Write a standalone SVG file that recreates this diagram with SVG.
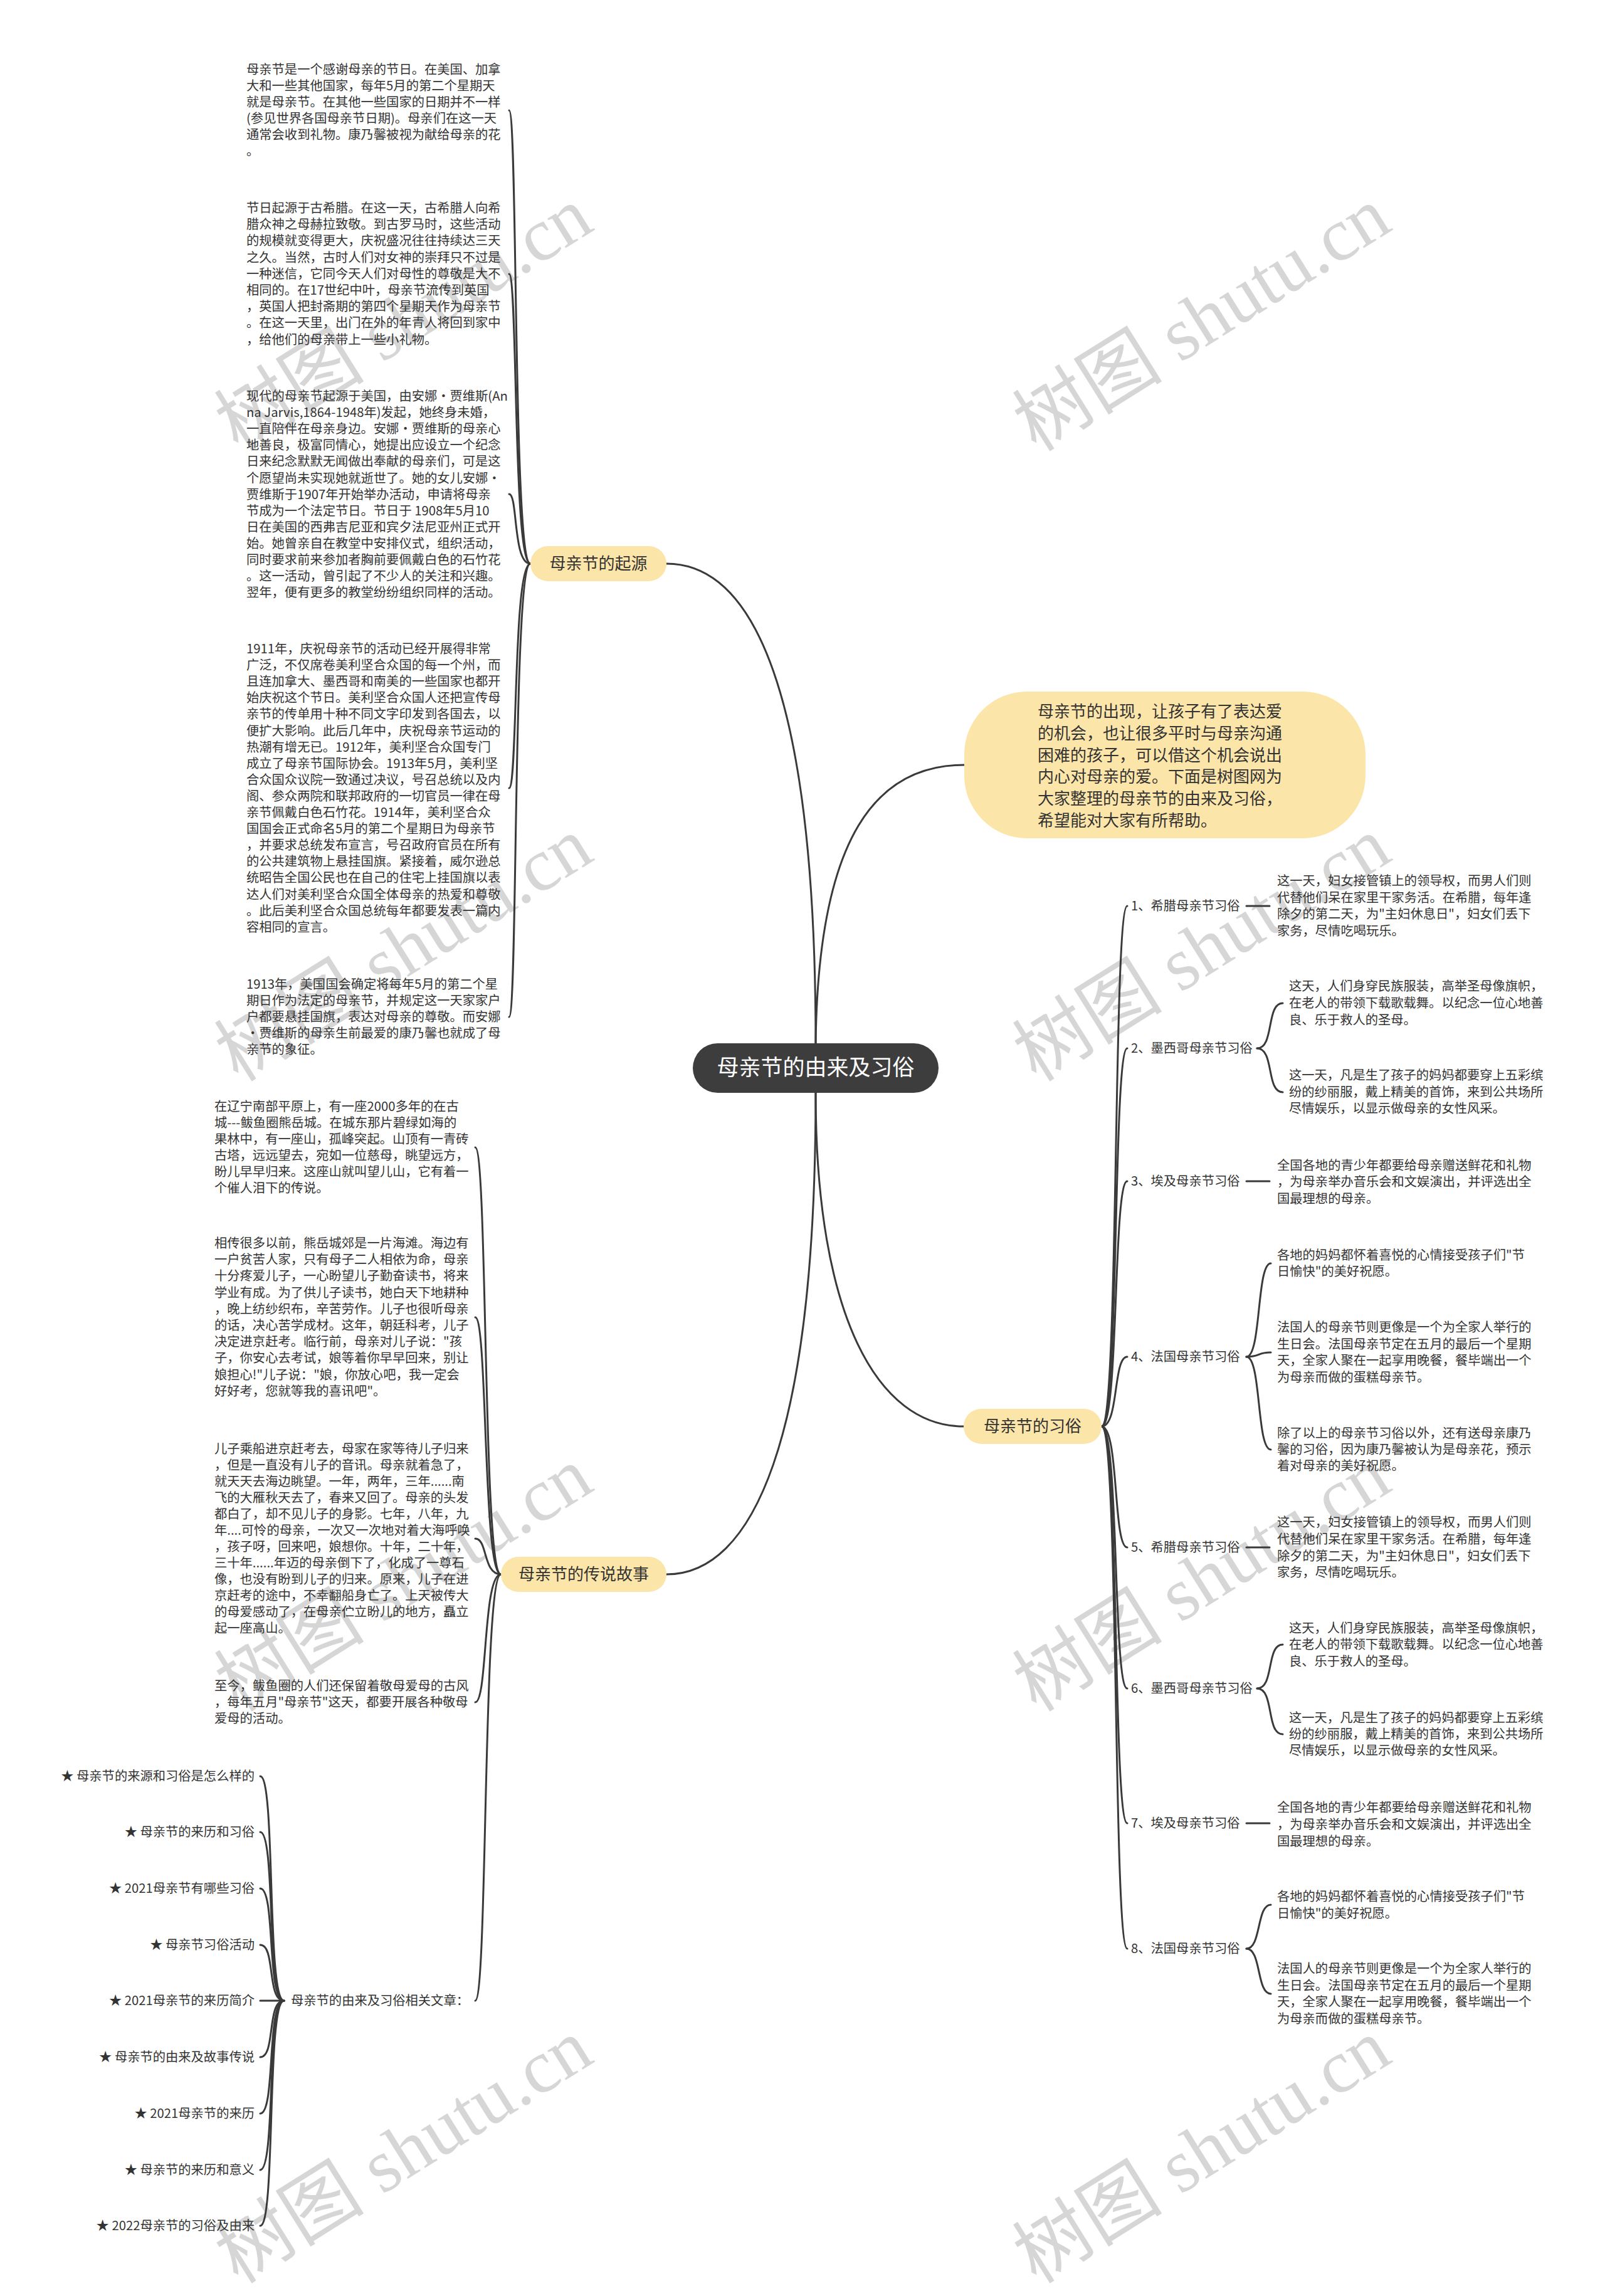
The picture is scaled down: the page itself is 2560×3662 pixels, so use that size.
<svg xmlns="http://www.w3.org/2000/svg" width="2560" height="3662" viewBox="0 0 2560 3662">
<style>
.t{font-family:"Noto Sans CJK SC","Noto Sans",sans-serif;fill:#333}
.s{font-size:20.3px}
.pt{font-size:26px;text-anchor:middle}
.end{text-anchor:end}
.pill{fill:#FCE5A9}
.wm{font-family:"Liberation Serif","Noto Sans CJK SC",serif;font-size:120px;fill:#d6d6d6}
.c{fill:none;stroke:#3a3a3a;stroke-width:3;stroke-linecap:round}
</style>
<rect width="2560" height="3662" fill="#ffffff"/>
<g id="watermarks">
<text class="wm" transform="translate(380,722) rotate(-32)">树图 shutu.cn</text>
<text class="wm" transform="translate(1653,722) rotate(-32)">树图 shutu.cn</text>
<text class="wm" transform="translate(380,1727) rotate(-32)">树图 shutu.cn</text>
<text class="wm" transform="translate(1653,1727) rotate(-32)">树图 shutu.cn</text>
<text class="wm" transform="translate(380,2732) rotate(-32)">树图 shutu.cn</text>
<text class="wm" transform="translate(1653,2732) rotate(-32)">树图 shutu.cn</text>
<text class="wm" transform="translate(380,3644) rotate(-32)">树图 shutu.cn</text>
<text class="wm" transform="translate(1653,3644) rotate(-32)">树图 shutu.cn</text>
</g>
<g id="connectors">
<path class="c" d="M1301 1664 C1301 1100 1200 899 1063 899"/>
<path class="c" d="M1301 1664 C1305 1330 1400 1220 1538 1220"/>
<path class="c" d="M1301 1743 C1301 2300 1200 2511 1063 2511"/>
<path class="c" d="M1301 1743 C1301 2100 1400 2275 1537 2275"/>
<path class="c" d="M846 899 C818 899 826 176 812 176"/>
<path class="c" d="M846 899 C818 899 826 437 812 437"/>
<path class="c" d="M846 899 C818 899 826 788 812 788"/>
<path class="c" d="M846 899 C818 899 826 1257 812 1257"/>
<path class="c" d="M846 899 C818 899 826 1622 812 1622"/>
<path class="c" d="M799 2511 C770 2511 778 1830 758 1830"/>
<path class="c" d="M799 2511 C770 2511 778 2101 758 2101"/>
<path class="c" d="M799 2511 C770 2511 778 2454 758 2454"/>
<path class="c" d="M799 2511 C770 2511 778 2715 758 2715"/>
<path class="c" d="M799 2511 C770 2511 778 3191 758 3191"/>
<path class="c" d="M453 3191 C425 3191 440 2833 415 2833"/>
<path class="c" d="M453 3191 C425 3191 440 2922 415 2922"/>
<path class="c" d="M453 3191 C425 3191 440 3012 415 3012"/>
<path class="c" d="M453 3191 C425 3191 440 3102 415 3102"/>
<path class="c" d="M453 3191 L415 3191"/>
<path class="c" d="M453 3191 C425 3191 440 3281 415 3281"/>
<path class="c" d="M453 3191 C425 3191 440 3371 415 3371"/>
<path class="c" d="M453 3191 C425 3191 440 3461 415 3461"/>
<path class="c" d="M453 3191 C425 3191 440 3550 415 3550"/>
<path class="c" d="M1757 2275 C1785 2275 1775 1445 1798 1445"/>
<path class="c" d="M1757 2275 C1785 2275 1775 1672 1798 1672"/>
<path class="c" d="M1757 2275 C1785 2275 1775 1884 1798 1884"/>
<path class="c" d="M1757 2275 C1785 2275 1775 2164 1798 2164"/>
<path class="c" d="M1757 2275 C1785 2275 1775 2468 1798 2468"/>
<path class="c" d="M1757 2275 C1785 2275 1775 2693 1798 2693"/>
<path class="c" d="M1757 2275 C1785 2275 1775 2908 1798 2908"/>
<path class="c" d="M1757 2275 C1785 2275 1775 3108 1798 3108"/>
<path class="c" d="M1988 1445 L2025 1445"/>
<path class="c" d="M2005 1672 C2033 1672 2019 1600 2046 1600"/>
<path class="c" d="M2005 1672 C2033 1672 2019 1742 2046 1742"/>
<path class="c" d="M1988 1884 L2025 1884"/>
<path class="c" d="M1988 2164 C2012 2164 2004 2015 2027 2015"/>
<path class="c" d="M1988 2164 C2012 2164 2004 2157 2027 2157"/>
<path class="c" d="M1988 2164 C2012 2164 2004 2312 2027 2312"/>
<path class="c" d="M1988 2468 L2025 2468"/>
<path class="c" d="M2005 2693 C2033 2693 2019 2623 2046 2623"/>
<path class="c" d="M2005 2693 C2033 2693 2019 2766 2046 2766"/>
<path class="c" d="M1988 2908 L2025 2908"/>
<path class="c" d="M1988 3108 C2012 3108 2004 3038 2027 3038"/>
<path class="c" d="M1988 3108 C2012 3108 2004 3180 2027 3180"/>
</g>
<g id="center">
<rect x="1105" y="1664" width="392" height="79" rx="39.5" fill="#3d3d3d"/>
<text class="t" x="1301" y="1715" style="font-size:35px;text-anchor:middle;fill:#ffffff">母亲节的由来及习俗</text>
</g>
<g id="intro">
<rect x="1538" y="1103" width="640" height="234" rx="100" class="pill"/>
<text class="t" style="font-size:26px">
<tspan x="1655" y="1144">母亲节的出现，让孩子有了表达爱</tspan>
<tspan x="1655" y="1179">的机会，也让很多平时与母亲沟通</tspan>
<tspan x="1655" y="1214">困难的孩子，可以借这个机会说出</tspan>
<tspan x="1655" y="1248">内心对母亲的爱。下面是树图网为</tspan>
<tspan x="1655" y="1283">大家整理的母亲节的由来及习俗，</tspan>
<tspan x="1655" y="1318">希望能对大家有所帮助。</tspan>
</text>
</g>
<g id="origin">
<rect x="846" y="871" width="217" height="56" rx="28" class="pill"/>
<text class="t pt" x="954.5" y="908">母亲节的起源</text>
</g>
<g id="origin-1">
<text class="t s">
<tspan x="393" y="118">母亲节是一个感谢母亲的节日。在美国、加拿</tspan>
<tspan x="393" y="144">大和一些其他国家，每年5月的第二个星期天</tspan>
<tspan x="393" y="170">就是母亲节。在其他一些国家的日期并不一样</tspan>
<tspan x="393" y="196">(参见世界各国母亲节日期)。母亲们在这一天</tspan>
<tspan x="393" y="222">通常会收到礼物。康乃馨被视为献给母亲的花</tspan>
<tspan x="393" y="248">。</tspan>
</text>
</g>
<g id="origin-2">
<text class="t s">
<tspan x="393" y="339">节日起源于古希腊。在这一天，古希腊人向希</tspan>
<tspan x="393" y="365">腊众神之母赫拉致敬。到古罗马时，这些活动</tspan>
<tspan x="393" y="391">的规模就变得更大，庆祝盛况往往持续达三天</tspan>
<tspan x="393" y="418">之久。当然，古时人们对女神的崇拜只不过是</tspan>
<tspan x="393" y="444">一种迷信，它同今天人们对母性的尊敬是大不</tspan>
<tspan x="393" y="470">相同的。在17世纪中叶，母亲节流传到英国</tspan>
<tspan x="393" y="496">，英国人把封斋期的第四个星期天作为母亲节</tspan>
<tspan x="393" y="522">。在这一天里，出门在外的年青人将回到家中</tspan>
<tspan x="393" y="549">，给他们的母亲带上一些小礼物。</tspan>
</text>
</g>
<g id="origin-3">
<text class="t s">
<tspan x="393" y="639">现代的母亲节起源于美国，由安娜·贾维斯(An</tspan>
<tspan x="393" y="665">na Jarvis,1864-1948年)发起，她终身未婚，</tspan>
<tspan x="393" y="691">一直陪伴在母亲身边。安娜·贾维斯的母亲心</tspan>
<tspan x="393" y="717">地善良，极富同情心，她提出应设立一个纪念</tspan>
<tspan x="393" y="743">日来纪念默默无闻做出奉献的母亲们，可是这</tspan>
<tspan x="393" y="770">个愿望尚未实现她就逝世了。她的女儿安娜·</tspan>
<tspan x="393" y="796">贾维斯于1907年开始举办活动，申请将母亲</tspan>
<tspan x="393" y="822">节成为一个法定节日。节日于 1908年5月10</tspan>
<tspan x="393" y="848">日在美国的西弗吉尼亚和宾夕法尼亚州正式开</tspan>
<tspan x="393" y="874">始。她曾亲自在教堂中安排仪式，组织活动，</tspan>
<tspan x="393" y="900">同时要求前来参加者胸前要佩戴白色的石竹花</tspan>
<tspan x="393" y="926">。这一活动，曾引起了不少人的关注和兴趣。</tspan>
<tspan x="393" y="952">翌年，便有更多的教堂纷纷组织同样的活动。</tspan>
</text>
</g>
<g id="origin-4">
<text class="t s">
<tspan x="393" y="1042">1911年，庆祝母亲节的活动已经开展得非常</tspan>
<tspan x="393" y="1068">广泛，不仅席卷美利坚合众国的每一个州，而</tspan>
<tspan x="393" y="1094">且连加拿大、墨西哥和南美的一些国家也都开</tspan>
<tspan x="393" y="1120">始庆祝这个节日。美利坚合众国人还把宣传母</tspan>
<tspan x="393" y="1146">亲节的传单用十种不同文字印发到各国去，以</tspan>
<tspan x="393" y="1173">便扩大影响。此后几年中，庆祝母亲节运动的</tspan>
<tspan x="393" y="1199">热潮有增无已。1912年，美利坚合众国专门</tspan>
<tspan x="393" y="1225">成立了母亲节国际协会。1913年5月，美利坚</tspan>
<tspan x="393" y="1251">合众国众议院一致通过决议，号召总统以及内</tspan>
<tspan x="393" y="1277">阁、参众两院和联邦政府的一切官员一律在母</tspan>
<tspan x="393" y="1303">亲节佩戴白色石竹花。1914年，美利坚合众</tspan>
<tspan x="393" y="1329">国国会正式命名5月的第二个星期日为母亲节</tspan>
<tspan x="393" y="1355">，并要求总统发布宣言，号召政府官员在所有</tspan>
<tspan x="393" y="1381">的公共建筑物上悬挂国旗。紧接着，威尔逊总</tspan>
<tspan x="393" y="1407">统昭告全国公民也在自己的住宅上挂国旗以表</tspan>
<tspan x="393" y="1434">达人们对美利坚合众国全体母亲的热爱和尊敬</tspan>
<tspan x="393" y="1460">。此后美利坚合众国总统每年都要发表一篇内</tspan>
<tspan x="393" y="1486">容相同的宣言。</tspan>
</text>
</g>
<g id="origin-5">
<text class="t s">
<tspan x="393" y="1577">1913年，美国国会确定将每年5月的第二个星</tspan>
<tspan x="393" y="1603">期日作为法定的母亲节，并规定这一天家家户</tspan>
<tspan x="393" y="1629">户都要悬挂国旗，表达对母亲的尊敬。而安娜</tspan>
<tspan x="393" y="1655">·贾维斯的母亲生前最爱的康乃馨也就成了母</tspan>
<tspan x="393" y="1681">亲节的象征。</tspan>
</text>
</g>
<g id="legend">
<rect x="799" y="2483" width="264" height="56" rx="28" class="pill"/>
<text class="t pt" x="931" y="2520">母亲节的传说故事</text>
</g>
<g id="legend-1">
<text class="t s">
<tspan x="342" y="1772">在辽宁南部平原上，有一座2000多年的在古</tspan>
<tspan x="342" y="1798">城---鲅鱼圈熊岳城。在城东那片碧绿如海的</tspan>
<tspan x="342" y="1824">果林中，有一座山，孤峰突起。山顶有一青砖</tspan>
<tspan x="342" y="1850">古塔，远远望去，宛如一位慈母，眺望远方，</tspan>
<tspan x="342" y="1876">盼儿早早归来。这座山就叫望儿山，它有着一</tspan>
<tspan x="342" y="1902">个催人泪下的传说。</tspan>
</text>
</g>
<g id="legend-2">
<text class="t s">
<tspan x="342" y="1990">相传很多以前，熊岳城郊是一片海滩。海边有</tspan>
<tspan x="342" y="2016">一户贫苦人家，只有母子二人相依为命，母亲</tspan>
<tspan x="342" y="2042">十分疼爱儿子，一心盼望儿子勤奋读书，将来</tspan>
<tspan x="342" y="2069">学业有成。为了供儿子读书，她白天下地耕种</tspan>
<tspan x="342" y="2095">，晚上纺纱织布，辛苦劳作。儿子也很听母亲</tspan>
<tspan x="342" y="2121">的话，决心苦学成材。这年，朝廷科考，儿子</tspan>
<tspan x="342" y="2147">决定进京赶考。临行前，母亲对儿子说："孩</tspan>
<tspan x="342" y="2173">子，你安心去考试，娘等着你早早回来，别让</tspan>
<tspan x="342" y="2200">娘担心!"儿子说："娘，你放心吧，我一定会</tspan>
<tspan x="342" y="2226">好好考，您就等我的喜讯吧"。</tspan>
</text>
</g>
<g id="legend-3">
<text class="t s">
<tspan x="342" y="2318">儿子乘船进京赶考去，母家在家等待儿子归来</tspan>
<tspan x="342" y="2344">，但是一直没有儿子的音讯。母亲就着急了，</tspan>
<tspan x="342" y="2370">就天天去海边眺望。一年，两年，三年......南</tspan>
<tspan x="342" y="2396">飞的大雁秋天去了，春来又回了。母亲的头发</tspan>
<tspan x="342" y="2422">都白了，却不见儿子的身影。七年，八年，九</tspan>
<tspan x="342" y="2448">年....可怜的母亲，一次又一次地对着大海呼唤</tspan>
<tspan x="342" y="2474">，孩子呀，回来吧，娘想你。十年，二十年，</tspan>
<tspan x="342" y="2500">三十年......年迈的母亲倒下了，化成了一尊石</tspan>
<tspan x="342" y="2526">像，也没有盼到儿子的归来。原来，儿子在进</tspan>
<tspan x="342" y="2552">京赶考的途中，不幸翻船身亡了。上天被传大</tspan>
<tspan x="342" y="2578">的母爱感动了，在母亲伫立盼儿的地方，矗立</tspan>
<tspan x="342" y="2604">起一座高山。</tspan>
</text>
</g>
<g id="legend-4">
<text class="t s">
<tspan x="342" y="2696">至今，鲅鱼圈的人们还保留着敬母爱母的古风</tspan>
<tspan x="342" y="2722">，每年五月"母亲节"这天，都要开展各种敬母</tspan>
<tspan x="342" y="2748">爱母的活动。</tspan>
</text>
</g>
<g id="related">
<text class="t s" x="464" y="3198">母亲节的由来及习俗相关文章：</text>
</g>
<g id="related-list">
<text class="t s end" x="406" y="2840">★ 母亲节的来源和习俗是怎么样的</text>
<text class="t s end" x="406" y="2929">★ 母亲节的来历和习俗</text>
<text class="t s end" x="406" y="3019">★ 2021母亲节有哪些习俗</text>
<text class="t s end" x="406" y="3109">★ 母亲节习俗活动</text>
<text class="t s end" x="406" y="3198">★ 2021母亲节的来历简介</text>
<text class="t s end" x="406" y="3288">★ 母亲节的由来及故事传说</text>
<text class="t s end" x="406" y="3378">★ 2021母亲节的来历</text>
<text class="t s end" x="406" y="3468">★ 母亲节的来历和意义</text>
<text class="t s end" x="406" y="3557">★ 2022母亲节的习俗及由来</text>
</g>
<g id="customs">
<rect x="1537" y="2247" width="220" height="56" rx="28" class="pill"/>
<text class="t pt" x="1647" y="2284">母亲节的习俗</text>
</g>
<g id="custom-labels">
<text class="t s" x="1804" y="1452">1、希腊母亲节习俗</text>
<text class="t s" x="1804" y="1679">2、墨西哥母亲节习俗</text>
<text class="t s" x="1804" y="1891">3、埃及母亲节习俗</text>
<text class="t s" x="1804" y="2171">4、法国母亲节习俗</text>
<text class="t s" x="1804" y="2475">5、希腊母亲节习俗</text>
<text class="t s" x="1804" y="2700">6、墨西哥母亲节习俗</text>
<text class="t s" x="1804" y="2915">7、埃及母亲节习俗</text>
<text class="t s" x="1804" y="3115">8、法国母亲节习俗</text>
</g>
<g id="custom-1">
<text class="t s">
<tspan x="2037" y="1412">这一天，妇女接管镇上的领导权，而男人们则</tspan>
<tspan x="2037" y="1439">代替他们呆在家里干家务活。在希腊，每年逢</tspan>
<tspan x="2037" y="1465">除夕的第二天，为"主妇休息日"，妇女们丢下</tspan>
<tspan x="2037" y="1492">家务，尽情吃喝玩乐。</tspan>
</text>
</g>
<g id="custom-2">
<text class="t s">
<tspan x="2056" y="1580">这天，人们身穿民族服装，高举圣母像旗帜，</tspan>
<tspan x="2056" y="1607">在老人的带领下载歌载舞。以纪念一位心地善</tspan>
<tspan x="2056" y="1634">良、乐于救人的圣母。</tspan>
<tspan x="2056" y="1722">这一天，凡是生了孩子的妈妈都要穿上五彩缤</tspan>
<tspan x="2056" y="1749">纷的纱丽服，戴上精美的首饰，来到公共场所</tspan>
<tspan x="2056" y="1775">尽情娱乐，以显示做母亲的女性风采。</tspan>
</text>
</g>
<g id="custom-3">
<text class="t s">
<tspan x="2037" y="1866">全国各地的青少年都要给母亲赠送鲜花和礼物</tspan>
<tspan x="2037" y="1892">，为母亲举办音乐会和文娱演出，并评选出全</tspan>
<tspan x="2037" y="1919">国最理想的母亲。</tspan>
</text>
</g>
<g id="custom-4">
<text class="t s">
<tspan x="2037" y="2009">各地的妈妈都怀着喜悦的心情接受孩子们"节</tspan>
<tspan x="2037" y="2035">日愉快"的美好祝愿。</tspan>
<tspan x="2037" y="2124">法国人的母亲节则更像是一个为全家人举行的</tspan>
<tspan x="2037" y="2151">生日会。法国母亲节定在五月的最后一个星期</tspan>
<tspan x="2037" y="2177">天，全家人聚在一起享用晚餐，餐毕端出一个</tspan>
<tspan x="2037" y="2204">为母亲而做的蛋糕母亲节。</tspan>
<tspan x="2037" y="2293">除了以上的母亲节习俗以外，还有送母亲康乃</tspan>
<tspan x="2037" y="2319">馨的习俗，因为康乃馨被认为是母亲花，预示</tspan>
<tspan x="2037" y="2345">着对母亲的美好祝愿。</tspan>
</text>
</g>
<g id="custom-5">
<text class="t s">
<tspan x="2037" y="2435">这一天，妇女接管镇上的领导权，而男人们则</tspan>
<tspan x="2037" y="2462">代替他们呆在家里干家务活。在希腊，每年逢</tspan>
<tspan x="2037" y="2489">除夕的第二天，为"主妇休息日"，妇女们丢下</tspan>
<tspan x="2037" y="2515">家务，尽情吃喝玩乐。</tspan>
</text>
</g>
<g id="custom-6">
<text class="t s">
<tspan x="2056" y="2604">这天，人们身穿民族服装，高举圣母像旗帜，</tspan>
<tspan x="2056" y="2630">在老人的带领下载歌载舞。以纪念一位心地善</tspan>
<tspan x="2056" y="2657">良、乐于救人的圣母。</tspan>
<tspan x="2056" y="2747">这一天，凡是生了孩子的妈妈都要穿上五彩缤</tspan>
<tspan x="2056" y="2773">纷的纱丽服，戴上精美的首饰，来到公共场所</tspan>
<tspan x="2056" y="2799">尽情娱乐，以显示做母亲的女性风采。</tspan>
</text>
</g>
<g id="custom-7">
<text class="t s">
<tspan x="2037" y="2890">全国各地的青少年都要给母亲赠送鲜花和礼物</tspan>
<tspan x="2037" y="2917">，为母亲举办音乐会和文娱演出，并评选出全</tspan>
<tspan x="2037" y="2944">国最理想的母亲。</tspan>
</text>
</g>
<g id="custom-8">
<text class="t s">
<tspan x="2037" y="3032">各地的妈妈都怀着喜悦的心情接受孩子们"节</tspan>
<tspan x="2037" y="3059">日愉快"的美好祝愿。</tspan>
<tspan x="2037" y="3147">法国人的母亲节则更像是一个为全家人举行的</tspan>
<tspan x="2037" y="3174">生日会。法国母亲节定在五月的最后一个星期</tspan>
<tspan x="2037" y="3200">天，全家人聚在一起享用晚餐，餐毕端出一个</tspan>
<tspan x="2037" y="3227">为母亲而做的蛋糕母亲节。</tspan>
</text>
</g>
</svg>
